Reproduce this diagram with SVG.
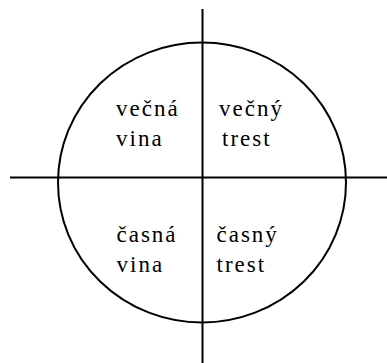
<svg xmlns="http://www.w3.org/2000/svg" width="387" height="363" viewBox="0 0 387 363">
<style>
.ln{stroke:#000;stroke-width:2;fill:none}
.t{font-family:'Liberation Serif','Times New Roman',serif;font-size:23px;letter-spacing:2px;fill:#000}
</style>
<rect width="387" height="363" fill="#fff"/>
<g id="circle"><ellipse class="ln" cx="202" cy="182.5" rx="144" ry="140"/></g>
<g id="connectors">
<line class="ln" x1="10" y1="177.5" x2="387" y2="177.5"/>
<line class="ln" x1="202.5" y1="9" x2="202.5" y2="363"/>
</g>
<g id="q1"><text class="t" x="116" y="116">večná</text><text class="t" x="116" y="146">vina</text></g>
<g id="q2"><text class="t" x="219" y="116">večný</text><text class="t" x="222" y="146">trest</text></g>
<g id="q3"><text class="t" x="116.5" y="242">časná</text><text class="t" x="116.5" y="272">vina</text></g>
<g id="q4"><text class="t" x="216.5" y="242">časný</text><text class="t" x="216.5" y="272">trest</text></g>
</svg>
